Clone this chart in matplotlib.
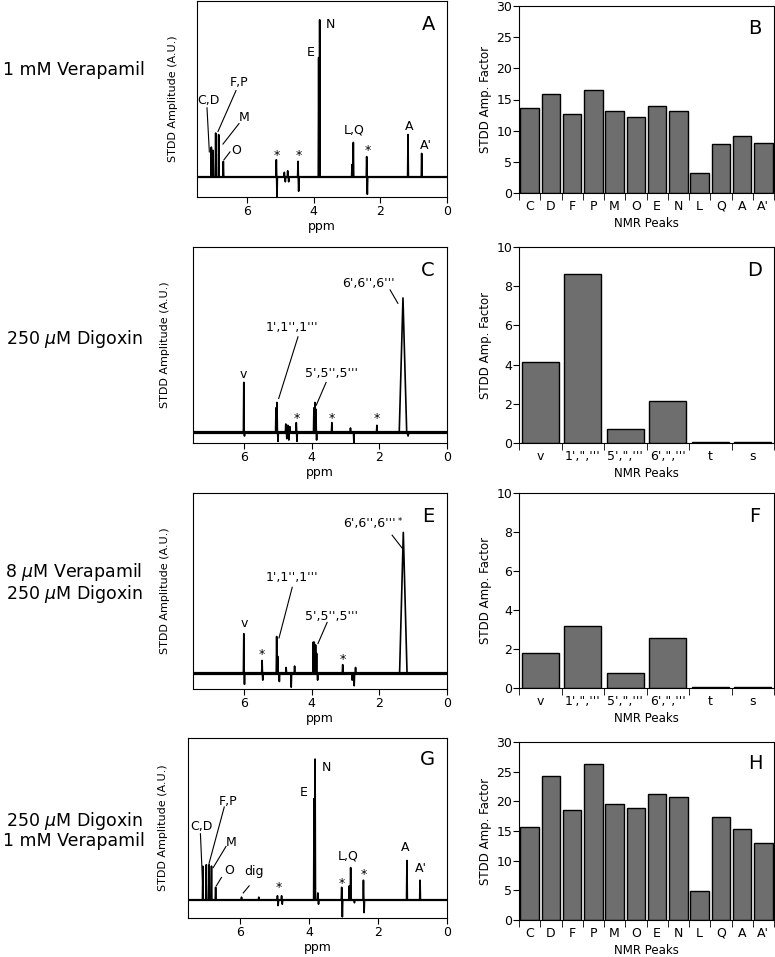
"""STDD NMR spectra (left) and amplification factors (right) for verapamil / digoxin."""

import matplotlib
matplotlib.use("Agg")
import matplotlib.pyplot as plt
import numpy as np

plt.rcParams["font.family"] = ["DejaVu Sans"]
plt.rcParams["mathtext.fontset"] = "dejavusans"

# ---- spectra: peak position (ppm), amplitude (rel. to tallest), half width (ppm)
verap_ppm = [7.07, 7.02, 6.94, 6.85, 6.71, 5.12, 5.10, 4.88, 4.85, 4.78, 4.75,
             4.47, 4.45, 3.85, 3.82, 2.85, 2.81, 2.41, 2.39, 1.17, 0.76]
verap_amp = [0.19, 0.17, 0.28, 0.27, 0.10, 0.11, -0.13, 0.03, -0.03, 0.04, -0.03,
             0.10, -0.09, 0.76, 1.00, 0.08, 0.22, 0.13, -0.11, 0.27, 0.15]
verap_wid = [0.012] * len(verap_ppm)

dig_ppm = [6.00, 5.98, 5.05, 5.02, 4.99, 4.76, 4.73, 4.70, 4.67, 4.64, 4.45, 4.43,
           3.93, 3.90, 3.87, 3.85, 3.40, 2.85, 2.75, 2.07, 1.30, 1.15]
dig_amp = [0.37, -0.03, 0.18, 0.22, -0.07, 0.06, -0.05, 0.05, -0.06, 0.04, 0.07, -0.07,
           0.18, 0.22, 0.17, -0.06, 0.07, 0.03, -0.08, 0.05, 1.00, -0.03]
dig_wid = [0.012] * 20 + [0.11, 0.03]

mix_ppm = [6.00, 5.98, 5.46, 5.44, 5.03, 5.00, 4.95, 4.75, 4.60, 4.50, 3.95, 3.92,
           3.88, 3.85, 3.82, 3.08, 2.80, 2.74, 2.70, 1.29]
mix_amp = [0.28, -0.08, 0.09, -0.05, 0.26, 0.12, -0.06, 0.04, -0.10, 0.05, 0.22, 0.22,
           0.20, 0.14, -0.05, 0.06, -0.05, -0.09, 0.04, 1.00]
mix_wid = [0.012] * 19 + [0.11]

comb_ppm = [7.07, 6.97, 6.89, 6.82, 6.70, 5.95, 5.45, 4.91, 4.89, 4.79, 4.77, 3.85,
            3.82, 3.74, 3.72, 3.05, 3.03, 2.83, 2.79, 2.68, 2.42, 2.40, 1.16, 0.78]
comb_amp = [0.24, 0.25, 0.25, 0.24, 0.09, 0.02, 0.02, 0.03, -0.04, 0.03, -0.03, 0.72,
            1.00, 0.05, -0.03, 0.09, -0.12, 0.10, 0.23, -0.02, 0.14, -0.09, 0.28, 0.14]
comb_wid = [0.012] * len(comb_ppm)

# ---- STDD amplification factors
verap_peaks = ["C", "D", "F", "P", "M", "O", "E", "N", "L", "Q", "A", "A'"]
verap_factor = [13.7, 15.9, 12.6, 16.6, 13.2, 12.2, 13.9, 13.1, 3.2, 7.9, 9.2, 8.1]

dig_peaks = ["v", "1',\",'''", "5',\",'''", "6',\",'''", "t", "s"]
dig_factor = [4.15, 8.62, 0.70, 2.13, 0.03, 0.03]
mix_factor = [1.77, 3.18, 0.76, 2.58, 0.03, 0.03]

comb_factor = [15.7, 24.3, 18.5, 26.3, 19.6, 18.8, 21.2, 20.8, 4.95, 17.4, 15.3, 12.9]

conditions = ["1 mM Verapamil", "250 $\\mu$M Digoxin",
              "8 $\\mu$M Verapamil\n250 $\\mu$M Digoxin",
              "250 $\\mu$M Digoxin\n1 mM Verapamil"]

W, H = 775, 957


def rect(x0, y0, x1, y1):
    return [x0 / W, 1 - y1 / H, (x1 - x0) / W, (y1 - y0) / H]


def trace(ppm, amp, wid):
    order = np.argsort(ppm)[::-1]
    xs, ys = [7.6], [0.0]
    for i in order:
        xs += [ppm[i] + wid[i], ppm[i], ppm[i] - wid[i]]
        ys += [0.0, amp[i], 0.0]
    xs.append(-0.1)
    ys.append(0.0)
    return xs, ys


def spectrum(ax, ppm, amp, wid, ylim, noise_lw, letter, ylab_x):
    ax.axhline(0, color="black", lw=noise_lw)
    xs, ys = trace(ppm, amp, wid)
    ax.plot(xs, ys, color="black", lw=1.2)
    ax.set_xlim(7.5, 0)
    ax.set_ylim(*ylim)
    ax.set_xticks([6, 4, 2, 0])
    ax.set_yticks([])
    ax.tick_params(axis="x", direction="out", length=4, labelsize=9, pad=2)
    ax.set_xlabel("ppm", fontsize=9, labelpad=1)
    ax.set_ylabel("STDD Amplitude (A.U.)", fontsize=8,
                  family=["Liberation Sans Narrow", "DejaVu Sans"])
    ax.yaxis.set_label_coords(ylab_x, 0.5)
    ax.text(0.925, 0.88, letter, transform=ax.transAxes, fontsize=14,
            ha="center", va="center")


def label(ax, text, xy, line=None, fs=9):
    ax.text(xy[0], xy[1], text, fontsize=fs, ha="center", va="center")
    if line is not None:
        (x0, y0), (x1, y1) = line
        ax.plot([x0, x1], [y0, y1], color="black", lw=0.8)


def bars(ax, names, vals, ymax, step, letter):
    pos = np.arange(len(names))
    ax.bar(pos, vals, width=0.88, color="#6e6e6e", edgecolor="black", lw=1.0)
    ax.set_xlim(-0.5, len(names) - 0.5)
    ax.set_ylim(0, ymax)
    ax.set_yticks(np.arange(0, ymax + 0.1, step))
    ax.set_xticks(pos)
    ax.set_xticklabels(names)
    ax.set_xticks(np.arange(-0.5, len(names), 1), minor=True)
    ax.tick_params(axis="x", which="major", length=0, pad=5, labelsize=9)
    ax.tick_params(axis="x", which="minor", length=5, direction="out")
    ax.tick_params(axis="y", length=4, direction="out", labelsize=9, pad=1)
    ax.set_xlabel("NMR Peaks", fontsize=8.5, labelpad=3)
    ax.set_ylabel("STDD Amp. Factor", fontsize=8.5, labelpad=3)
    ax.text(0.925, 0.88, letter, transform=ax.transAxes, fontsize=14,
            ha="center", va="center")


fig = plt.figure(figsize=(W / 100, H / 100), dpi=100)

axA = fig.add_axes(rect(197, 1, 447, 197))
axB = fig.add_axes(rect(519, 6, 774, 193))
axC = fig.add_axes(rect(193, 247, 447, 443))
axD = fig.add_axes(rect(519, 247, 774, 443))
axE = fig.add_axes(rect(193, 493, 447, 689))
axF = fig.add_axes(rect(519, 493, 774, 688))
axG = fig.add_axes(rect(188, 738, 447, 918))
axH = fig.add_axes(rect(519, 742, 774, 920))

# A: verapamil alone
spectrum(axA, verap_ppm, verap_amp, verap_wid, (-0.127, 1.12), 1.6, "A", -0.076)
label(axA, "N", (3.5, 0.97))
label(axA, "E", (4.08, 0.79))
label(axA, "C,D", (7.17, 0.49), ((7.2, 0.44), (7.13, 0.16)))
label(axA, "F,P", (6.24, 0.60), ((6.33, 0.55), (6.87, 0.29)))
label(axA, "M", (6.09, 0.38), ((6.24, 0.34), (6.72, 0.21)))
label(axA, "O", (6.33, 0.17), ((6.51, 0.16), (6.69, 0.11)))
label(axA, "L,Q", (2.79, 0.30))
label(axA, "A", (1.14, 0.32))
label(axA, "A'", (0.63, 0.20))
for x, y in [(5.11, 0.14), (4.46, 0.14), (2.38, 0.17)]:
    label(axA, "*", (x, y), fs=9)

# C: digoxin alone
spectrum(axC, dig_ppm, dig_amp, dig_wid, (-0.082, 1.38), 2.3, "C", -0.09)
label(axC, "v", (6.0, 0.43))
label(axC, "1',1'',1'''", (4.57, 0.78), ((4.40, 0.71), (4.97, 0.25)))
label(axC, "5',5'',5'''", (3.40, 0.44), ((3.57, 0.37), (3.86, 0.20)))
label(axC, "6',6'',6'''", (2.33, 1.11), ((1.68, 1.06), (1.45, 0.96)))
for x in [4.45, 3.40, 2.07]:
    label(axC, "*", (x, 0.10))

# E: verapamil 8 uM + digoxin
spectrum(axE, mix_ppm, mix_amp, mix_wid, (-0.113, 1.28), 2.3, "E", -0.09)
label(axE, "v", (5.98, 0.35))
label(axE, "1',1'',1'''", (4.57, 0.68), ((4.57, 0.61), (4.96, 0.25)))
label(axE, "5',5'',5'''", (3.40, 0.40), ((3.54, 0.36), (3.81, 0.21)))
label(axE, "6',6'',6'''", (2.30, 1.06), ((1.62, 0.98), (1.33, 0.89)))
axE.text(1.40, 1.08, "*", fontsize=6, ha="center", va="center")
label(axE, "*", (5.46, 0.13))
label(axE, "*", (3.08, 0.10))

# G: digoxin + verapamil 1 mM
spectrum(axG, comb_ppm, comb_amp, comb_wid, (-0.128, 1.15), 1.6, "G", -0.077)
label(axG, "N", (3.5, 0.94))
label(axG, "E", (4.16, 0.76))
label(axG, "C,D", (7.11, 0.52), ((7.14, 0.47), (7.08, 0.13)))
label(axG, "F,P", (6.35, 0.70), ((6.45, 0.66), (6.89, 0.26)))
label(axG, "M", (6.24, 0.41), ((6.40, 0.38), (6.77, 0.23)))
label(axG, "O", (6.32, 0.21), ((6.53, 0.16), (6.68, 0.10)))
label(axG, "dig", (5.59, 0.20), ((5.73, 0.10), (5.90, 0.05)))
label(axG, "L,Q", (2.85, 0.31))
label(axG, "A", (1.22, 0.37))
label(axG, "A'", (0.76, 0.22))
for x, y in [(4.86, 0.09), (3.04, 0.12), (2.41, 0.18)]:
    label(axG, "*", (x, y))

# bar charts
bars(axB, verap_peaks, verap_factor, 30, 5, "B")
bars(axD, dig_peaks, dig_factor, 10, 2, "D")
bars(axF, dig_peaks, mix_factor, 10, 2, "F")
bars(axH, verap_peaks, comb_factor, 30, 5, "H")

# condition labels on the left
for text, yc in zip(conditions, [70, 339, 583, 830]):
    fig.text(74 / W, 1 - yc / H, text, fontsize=12.5, ha="center", va="center",
             linespacing=0.95)

fig.savefig("out.png", dpi=100)
